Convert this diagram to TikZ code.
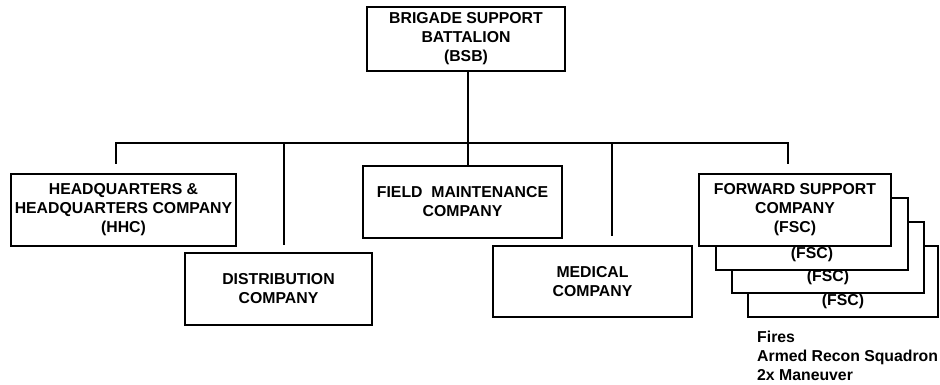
\documentclass[tikz,border=0pt]{standalone}
\usepackage{fontspec}
\setmainfont{Liberation Sans}
\usetikzlibrary{positioning}

\tikzset{
  unit/.style={draw, line width=2.8pt, fill=white, inner sep=0pt, align=center,
    font=\bfseries\fontsize{15.8}{19}\selectfont},
  link/.style={line width=2.8pt}
}

\begin{document}
\begin{tikzpicture}[x=1pt, y=-1pt]
\useasboundingbox (0,0) rectangle (940,385);

% ======================================
% THE BATTALION
% ======================================
\node[unit, minimum width=198pt, minimum height=64pt] (bsb) at (466,39)
  {BRIGADE SUPPORT\\BATTALION\\(BSB)};
\coordinate (bus) at (468,143);

% ======================================
% COMPANIES
% ======================================
\node[unit, minimum width=225pt, minimum height=72pt] (hhc) at (123.5,210)
  {HEADQUARTERS \&\\HEADQUARTERS COMPANY\\(HHC)};
\node[unit, minimum width=187pt, minimum height=72pt] (dist) at (278.5,289)
  {DISTRIBUTION\\COMPANY};
\node[unit, minimum width=199pt, minimum height=72pt] (fm) at (462.5,202)
  {FIELD\ \ MAINTENANCE\\COMPANY};
\node[unit, minimum width=199pt, minimum height=71pt] (med) at (592.5,281.5)
  {MEDICAL\\COMPANY};

% ======================================
% FORWARD SUPPORT COMPANIES (STACK)
% ======================================
\node[unit, minimum width=190pt, minimum height=71pt] (fscfour) at (843,281.5)
  {\strut\\\strut\\(FSC)};
\node[unit, minimum width=192pt, minimum height=71pt] (fscthree) at (828,257.5)
  {\strut\\\strut\\(FSC)};
\node[unit, minimum width=192pt, minimum height=72pt] (fsctwo) at (812,234)
  {\strut\\\strut\\(FSC)};
\node[unit, minimum width=192pt, minimum height=72pt] (fsc) at (795,210)
  {FORWARD SUPPORT\\COMPANY\\(FSC)};

\node[align=left, anchor=west, inner sep=0pt,
  font=\bfseries\fontsize{15.8}{19}\selectfont] (supp) at (757,356)
  {Fires\\Armed Recon Squadron\\2x Maneuver};

% ======================================
% CONNECTORS
% ======================================
\draw[link] ([xshift=2pt]bsb.south) -- (bus);
\draw[link, shorten >=9pt] (bus) -| ([xshift=-7.5pt]hhc.north);
\draw[link, shorten >=7pt] (bus) -| ([xshift=5.5pt]dist.north);
\draw[link] (bus) -| ([xshift=5.5pt]fm.north);
\draw[link, shorten >=9pt] (bus) -| ([xshift=19.5pt]med.north);
\draw[link, shorten >=9pt] (bus) -| ([xshift=-7pt]fsc.north);

\end{tikzpicture}
\end{document}
